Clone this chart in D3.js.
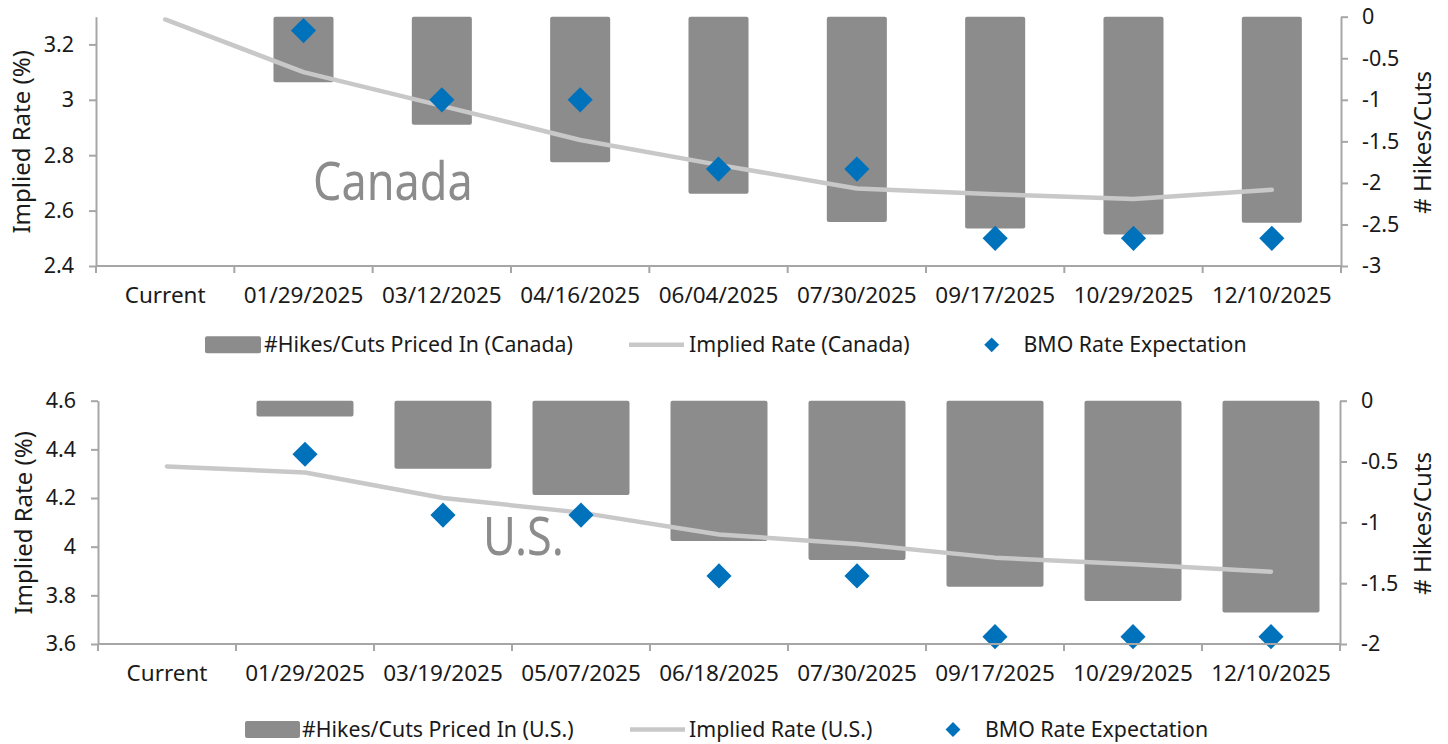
<!DOCTYPE html>
<html><head><meta charset="utf-8">
<script src="https://cdn.jsdelivr.net/npm/d3@7"></script>
<style>
body{margin:0;background:#fff}
svg{display:block;font-family:"Noto Sans",sans-serif}
</style>
</head><body>
<svg id="chart" width="1448" height="744"></svg>
<script>
// ---------- Data ----------
const caCategories = ["Current","01/29/2025","03/12/2025","04/16/2025","06/04/2025","07/30/2025","09/17/2025","10/29/2025","12/10/2025"];
const caHikesCuts  = [null, -0.79, -1.30, -1.75, -2.13, -2.47, -2.55, -2.62, -2.48];
const caImplied    = [3.29, 3.10, 2.978, 2.855, 2.765, 2.68, 2.659, 2.642, 2.675];
const caBMO        = [null, 3.25, 3.00, 3.00, 2.75, 2.75, 2.50, 2.50, 2.50];
const caLeftTicks  = [2.4, 2.6, 2.8, 3.0, 3.2];
const caRightTicks = [-3, -2.5, -2, -1.5, -1, -0.5, 0];

const usCategories = ["Current","01/29/2025","03/19/2025","05/07/2025","06/18/2025","07/30/2025","09/17/2025","10/29/2025","12/10/2025"];
const usHikesCuts  = [null, -0.13, -0.56, -0.775, -1.153, -1.31, -1.53, -1.646, -1.742];
const usImplied    = [4.33, 4.305, 4.20, 4.14, 4.05, 4.011, 3.955, 3.928, 3.897];
const usBMO        = [null, 4.38, 4.13, 4.13, 3.88, 3.88, 3.63, 3.63, 3.63];
const usLeftTicks  = [3.6, 3.8, 4.0, 4.2, 4.4, 4.6];
const usRightTicks = [-2, -1.5, -1, -0.5, 0];

const legendBMO = "BMO Rate Expectation";

// ---------- Styles ----------
const BAR = "#8c8c8c", LINE = "#c8c8c8", DIA = "#0072bc", AXIS = "#a6a6a6", TXT = "#1a1a1a";
const fmt = v => (Math.round(v * 10) / 10).toString();

const svg = d3.select("#chart");

function panel(cfg) {
  const g = svg.append("g");
  const x = d3.scaleBand().domain(cfg.categories).range([cfg.x0, cfg.x1]).padding(0);
  const yL = d3.scaleLinear().domain(cfg.leftDomain).range([cfg.yBot, cfg.yTop]);
  const yR = d3.scaleLinear().domain(cfg.rightDomain).range([cfg.yBot, cfg.yTop]);
  const bw = x.bandwidth() * cfg.barFrac;
  const cx = c => x(c) + x.bandwidth() / 2;

  // bars
  const barData = cfg.categories.map((c, i) => ({c, v: cfg.hikes[i]})).filter(d => d.v != null);
  g.append("g").selectAll("rect").data(barData).join("rect")
    .attr("x", d => cx(d.c) - bw / 2)
    .attr("y", yR(0))
    .attr("width", bw)
    .attr("height", d => yR(d.v) - yR(0))
    .attr("rx", 2)
    .attr("fill", BAR);

  // country label
  g.append("text")
    .attr("transform", `translate(${cfg.labelX},${cfg.labelY}) scale(0.85,1)`)
    .attr("font-size", 53).attr("fill", BAR)
    .text(cfg.label);

  // implied rate line
  const lineData = cfg.categories.map((c, i) => ({c, v: cfg.implied[i]}));
  g.append("path").datum(lineData)
    .attr("fill", "none").attr("stroke", LINE).attr("stroke-width", 4.5)
    .attr("stroke-linecap", "round").attr("stroke-linejoin", "round")
    .attr("d", d3.line().x(d => cx(d.c)).y(d => yL(d.v)));

  // BMO diamonds
  const dia = d3.symbol().type(d3.symbolSquare).size(17.8 * 17.8);
  const bmoData = cfg.categories.map((c, i) => ({c, v: cfg.bmo[i]})).filter(d => d.v != null);
  g.append("g").selectAll("path").data(bmoData).join("path")
    .attr("transform", d => `translate(${cx(d.c)},${yL(d.v)}) rotate(45)`)
    .attr("d", dia).attr("fill", DIA);

  // left axis
  const la = g.append("g").attr("transform", `translate(${cfg.x0},0)`)
    .call(d3.axisLeft(yL).tickValues(cfg.leftTicks).tickFormat(fmt).tickSize(7).tickSizeOuter(0).tickPadding(15));
  // right axis
  const ra = g.append("g").attr("transform", `translate(${cfg.x1},0)`)
    .call(d3.axisRight(yR).tickValues(cfg.rightTicks).tickFormat(fmt).tickSize(7).tickSizeOuter(0).tickPadding(14));
  [la, ra].forEach(a => {
    a.selectAll("path.domain").attr("stroke", AXIS).attr("stroke-width", 2);
    a.selectAll(".tick line").attr("stroke", AXIS).attr("stroke-width", 2);
    a.selectAll(".tick text").attr("font-size", 21.5).attr("fill", TXT)
      .attr("font-family", '"Noto Sans",sans-serif');
  });

  // bottom axis: line, boundary ticks, centered labels
  const xa = g.append("g");
  xa.append("line").attr("x1", cfg.x0).attr("x2", cfg.x1)
    .attr("y1", cfg.yBot).attr("y2", cfg.yBot)
    .attr("stroke", AXIS).attr("stroke-width", 2);
  const bounds = cfg.categories.map(c => x(c)).concat([cfg.x1]);
  xa.selectAll("line.tk").data(bounds).join("line").attr("class", "tk")
    .attr("x1", d => d).attr("x2", d => d)
    .attr("y1", cfg.yBot).attr("y2", cfg.yBot + 7)
    .attr("stroke", AXIS).attr("stroke-width", 2);
  xa.selectAll("text").data(cfg.categories).join("text")
    .attr("x", d => cx(d)).attr("y", cfg.yBot + 37)
    .attr("text-anchor", "middle").attr("font-size", 22.5).attr("fill", TXT)
    .text(d => d);

  // axis titles
  g.append("text")
    .attr("transform", `translate(${cfg.leftTitleX},${(cfg.yTop + cfg.yBot) / 2 + 0.5}) rotate(-90)`)
    .attr("text-anchor", "middle").attr("font-size", 24).attr("fill", TXT)
    .text("Implied Rate (%)");
  g.append("text")
    .attr("transform", `translate(1431,${(cfg.yTop + cfg.yBot) / 2 + 1}) rotate(-90)`)
    .attr("text-anchor", "middle").attr("font-size", 24).attr("fill", TXT)
    .text("# Hikes/Cuts");

  // legend
  const L = cfg.legend, ly = cfg.legendY;
  const lg = g.append("g").attr("font-size", 21.3).attr("fill", TXT);
  lg.append("rect").attr("x", L.barX).attr("y", ly - 8.5).attr("width", L.barW).attr("height", 17)
    .attr("rx", 2).attr("fill", BAR);
  lg.append("text").attr("x", L.barTextX).attr("y", ly + 7.5).text(cfg.legendBar);
  lg.append("line").attr("x1", L.lineX).attr("x2", L.lineX + 55).attr("y1", ly).attr("y2", ly)
    .attr("stroke", LINE).attr("stroke-width", 4.5);
  lg.append("text").attr("x", L.lineTextX).attr("y", ly + 7.5).text(cfg.legendLine);
  lg.append("path").attr("transform", `translate(${L.diaX},${ly}) rotate(45)`)
    .attr("d", d3.symbol().type(d3.symbolSquare).size(10.5 * 10.5)).attr("fill", DIA);
  lg.append("text").attr("x", L.diaTextX).attr("y", ly + 7.5).text(legendBMO);
}

panel({
  categories: caCategories, hikes: caHikesCuts, implied: caImplied, bmo: caBMO,
  x0: 96, x1: 1341, yTop: 16.7, yBot: 266,
  leftDomain: [2.4, 3.3], leftTicks: caLeftTicks,
  rightDomain: [-3, 0], rightTicks: caRightTicks,
  barFrac: 0.434, label: "Canada", labelX: 313, labelY: 200,
  leftTitleX: 30,
  legendY: 344.8,
  legendBar: "#Hikes/Cuts Priced In (Canada)", legendLine: "Implied Rate (Canada)",
  legend: {barX: 205, barW: 56, barTextX: 264, lineX: 629, lineTextX: 689, diaX: 991.7, diaTextX: 1023.5}
});

panel({
  categories: usCategories, hikes: usHikesCuts, implied: usImplied, bmo: usBMO,
  x0: 98, x1: 1340, yTop: 400.7, yBot: 644,
  leftDomain: [3.6, 4.6], leftTicks: usLeftTicks,
  rightDomain: [-2, 0], rightTicks: usRightTicks,
  barFrac: 0.703, label: "U.S.", labelX: 483, labelY: 554.5,
  leftTitleX: 32,
  legendY: 729.5,
  legendBar: "#Hikes/Cuts Priced In (U.S.)", legendLine: "Implied Rate (U.S.)",
  legend: {barX: 245, barW: 55, barTextX: 302, lineX: 630, lineTextX: 689, diaX: 953, diaTextX: 985}
});
</script>
</body></html>
